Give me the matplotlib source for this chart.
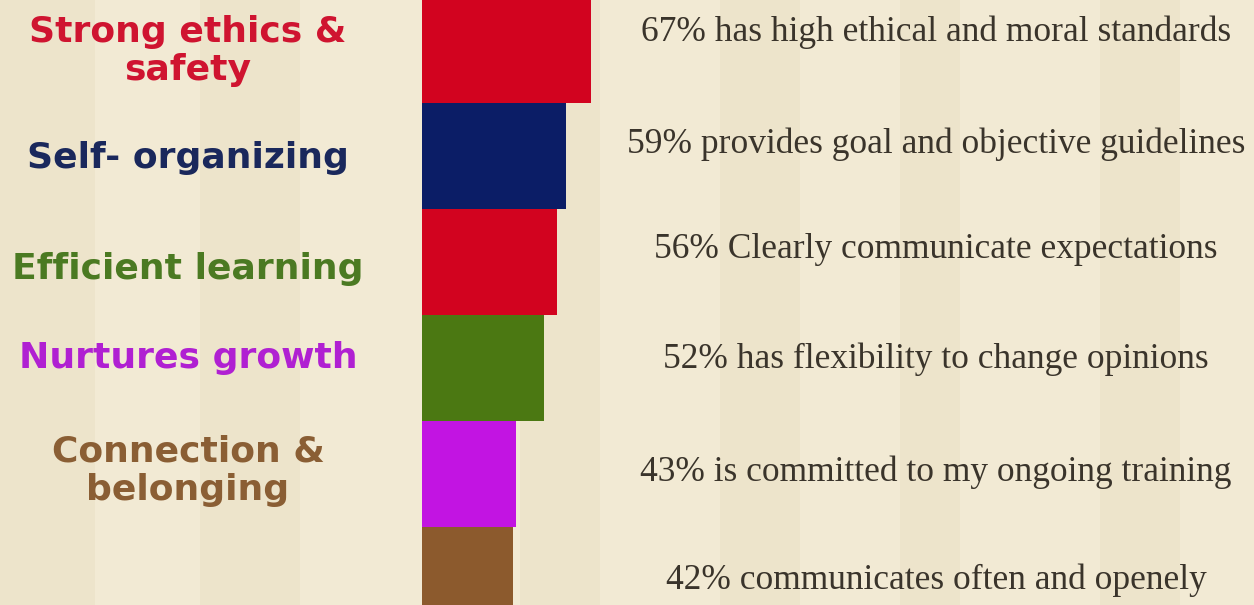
#---------------------------
# Leadership traits bar chart
#---------------------------

import matplotlib.pyplot as plt

# data
percents = [67, 59, 56, 52, 43, 42]
statements = ["has high ethical and moral standards",
              "provides goal and objective guidelines",
              "Clearly communicate expectations",
              "has flexibility to change opinions",
              "is committed to my ongoing training",
              "communicates often and openely"]
bar_colors = ["#d2031f", "#0b1d66", "#d2031f", "#4b7812", "#c214e2", "#8c5a2d"]

traits = ["Strong ethics &\nsafety", "Self- organizing", "Efficient learning",
          "Nurtures growth", "Connection &\nbelonging"]
trait_colors = ["#cf1430", "#1a285c", "#4b7a22", "#b020d2", "#8a5e34"]

W, H = 1254, 605
bg = "#f2ead4"

fig = plt.figure(figsize=(W/100, H/100), dpi=100)
fig.patch.set_facecolor(bg)

# faint vertical stripes in the background
stripes = [(0, 95), (200, 300), (520, 600), (720, 800), (900, 960), (1100, 1180)]
for x0, x1 in stripes:
    fig.patches.append(plt.Rectangle((x0/W, 0), (x1-x0)/W, 1, transform=fig.transFigure,
                                     facecolor="#ebe1c5", edgecolor="none", alpha=0.6, zorder=-10))

# bars: axes starts at 422px, left limit chosen so widths match the picture
slot = 106.0
x_left = 12.8
px_per = 3.12
ax_w = 200
ax = fig.add_axes([422/W, 0, ax_w/W, 1])
ax.set_facecolor("none")
ax.set_zorder(5)
ypos = list(range(len(percents)))
ax.barh(ypos, percents, height=1.0, color=bar_colors, left=0)
ax.set_xlim(x_left, x_left + ax_w/px_per)
top = -0.5 + 3/slot
ax.set_ylim(top + H/slot, top)
ax.set_axis_off()

# right side statements
stmt_y = [32, 144, 250, 359, 472, 580]
for p, s, yc in zip(percents, statements, stmt_y):
    fig.text(936/W, 1 - yc/H, f"{p}% {s}", ha="center", va="center",
             fontsize=25.5, family="Liberation Serif", color="#3a342b", zorder=6)

# left trait labels
label_y = [51, 158, 269, 358, 471]
for lab, c, yc in zip(traits, trait_colors, label_y):
    fig.text(188/W, 1 - yc/H, lab, ha="center", va="center", fontsize=26,
             fontweight="heavy", family="DejaVu Sans", color=c, linespacing=1.15, zorder=6)

fig.savefig("out.png", dpi=100, facecolor=bg)
